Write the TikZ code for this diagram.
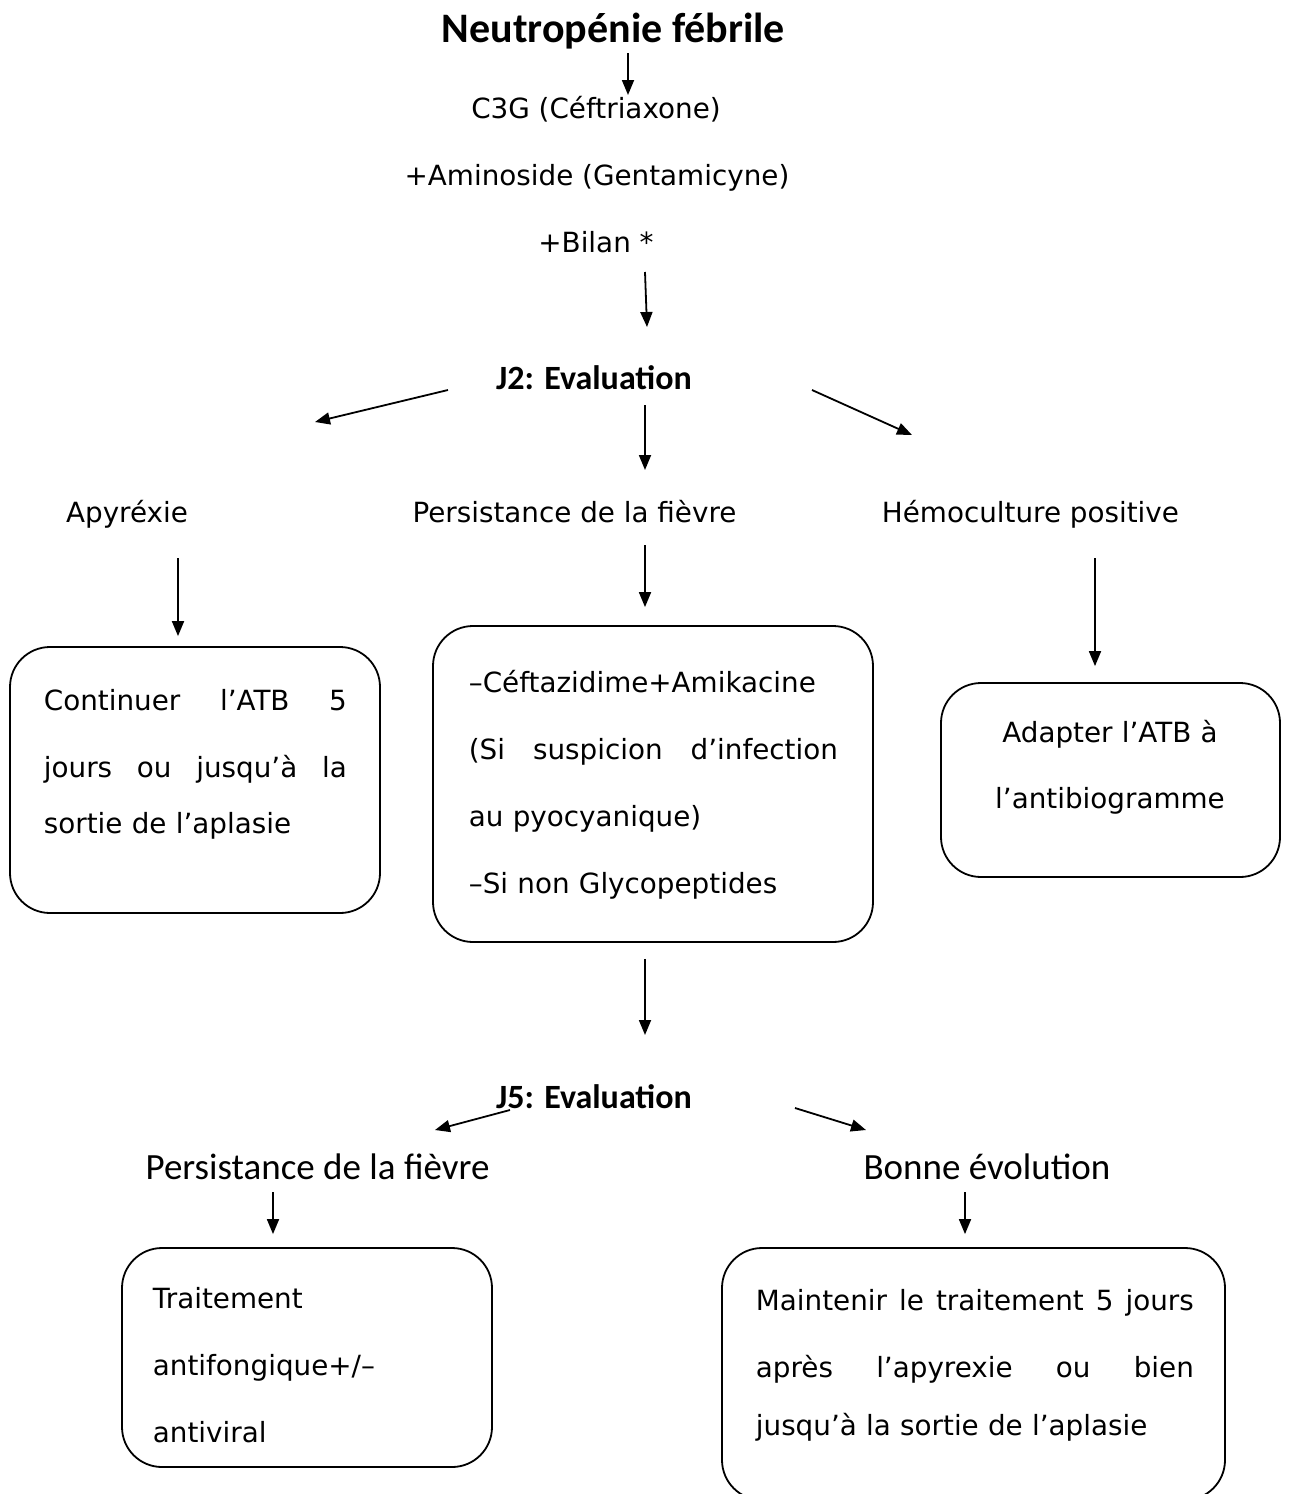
\documentclass[tikz,border=0pt]{standalone}
\usepackage{fontspec}
\setmainfont{DejaVu Sans}
\newfontfamily\calib{Carlito}
\usetikzlibrary{arrows.meta}
\newcommand{\jline}[2]{\leavevmode\hbox to #1{\spaceskip=0.3em plus 1fil\relax #2}}
\begin{document}
\begin{tikzpicture}[x=1pt,y=-1pt,line join=round,>={Triangle[length=15pt,width=12pt]},line width=1.8pt]
	\tikzset{txt/.style={inner sep=0pt,font=\fontsize{27.8}{67}\selectfont},
		head/.style={inner sep=0pt,font=\calib\bfseries\fontsize{34}{40}\selectfont},
		sub/.style={inner sep=0pt,font=\calib\fontsize{37}{44}\selectfont},
		rbox/.style={draw,rounded corners=40pt,line width=1.8pt,inner sep=0pt}}
	\useasboundingbox (0,0) rectangle (1288,1494);
	% top
	\node[inner sep=0pt,font=\calib\bfseries\fontsize{42}{48}\selectfont,anchor=base] (title) at (613.5,42) {Neutropénie fébrile};
	\node[txt,anchor=base] (c3g) at (596,118) {C3G (Céftriaxone)};
	\node[txt,anchor=base] (amino) at (597,185) {+Aminoside (Gentamicyne)};
	\node[txt,anchor=base] (bilan) at (596,252) {+Bilan *};
	\node[head,anchor=base] (j2) at (594,389) {J2: Evaluation};
	% J2 branches
	\node[txt,anchor=base] (apy) at (127,522) {Apyréxie};
	\node[txt,anchor=base] (pers) at (574.5,522) {Persistance de la fièvre};
	\node[txt,anchor=base] (hemo) at (1030.5,522) {Hémoculture positive};
	\node[rbox,minimum width=370pt,minimum height=266pt] (bA) at (195,780) {};
	\node[rbox,minimum width=440pt,minimum height=316pt] (bB) at (653,784) {};
	\node[rbox,minimum width=339pt,minimum height=194pt] (bC) at (1110.5,780) {};
	\node[txt,text width=303pt,anchor=base west] (tA) at (43,710) {\jline{303pt}{Continuer l’ATB 5}\\ \jline{303pt}{jours ou jusqu’à la}\\[-11pt] sortie de l’aplasie};
	\node[txt,text width=369pt,anchor=base west] (tB) at (468,692) {–Céftazidime+Amikacine\\ \jline{369pt}{(Si suspicion d’infection}\\ au pyocyanique)\\ –Si non Glycopeptides};
	\node[txt,text width=240pt,align=center,anchor=base] (tC) at (1110,742) {Adapter l’ATB à\\[-1pt] l’antibiogramme};
	% J5
	\node[head,anchor=base] (j5) at (594,1108) {J5: Evaluation};
	\node[sub,anchor=base] (pers2) at (317.5,1179) {Persistance de la fièvre};
	\node[sub,anchor=base] (bonne) at (987,1179) {Bonne évolution};
	\node[rbox,minimum width=370pt,minimum height=219pt] (bD) at (307,1357.5) {};
	\node[rbox,minimum width=503pt,minimum height=252pt] (bE) at (973.5,1374) {};
	\node[txt,text width=330pt,anchor=base west] (tD) at (152,1308) {Traitement\\ antifongique+/–\\ antiviral};
	\node[txt,text width=438pt,anchor=base west] (tE) at (755,1310) {\jline{438pt}{Maintenir le traitement 5 jours}\\ \jline{438pt}{après l’apyrexie ou bien}\\[-9pt] jusqu’à la sortie de l’aplasie};
	% arrows
	\draw[->] ([xshift=14.5pt,yshift=-11pt]title.base) -- ([xshift=32pt,yshift=23pt]c3g.base);
	\draw[->] ([xshift=49pt,yshift=-20pt]bilan.base) -- ([xshift=53pt,yshift=62pt]j2.base);
	\draw[->] ([xshift=-146pt,yshift=-1pt]j2.base) -- ([xshift=188pt,yshift=100pt]apy.base);
	\draw[->] ([xshift=51pt,yshift=-16pt]j2.base) -- ([xshift=70.5pt,yshift=52pt]pers.base);
	\draw[->] ([xshift=218pt,yshift=-1pt]j2.base) -- ([xshift=-118.5pt,yshift=87pt]hemo.base);
	\draw[->] ([xshift=51pt,yshift=-36pt]apy.base) -- ([xshift=-17pt,yshift=10pt]bA.north);
	\draw[->] ([xshift=70.5pt,yshift=-23pt]pers.base) -- ([xshift=-8pt,yshift=18pt]bB.north);
	\draw[->] ([xshift=64.5pt,yshift=-36pt]hemo.base) -- ([xshift=-15.5pt,yshift=16pt]bC.north);
	\draw[->] ([xshift=-8pt,yshift=-16pt]bB.south) -- ([xshift=51pt,yshift=73pt]j5.base);
	\draw[->] ([xshift=-84pt,yshift=-2pt]j5.base) -- ([xshift=117.5pt,yshift=49pt]pers2.base);
	\draw[->] ([xshift=201pt,yshift=0pt]j5.base) -- ([xshift=-121pt,yshift=49pt]bonne.base);
	\draw[->] ([xshift=-44.5pt,yshift=-13pt]pers2.base) -- ([xshift=-34pt,yshift=13pt]bD.north);
	\draw[->] ([xshift=-22pt,yshift=-13pt]bonne.base) -- ([xshift=-8.5pt,yshift=13pt]bE.north);
\end{tikzpicture}
\end{document}
